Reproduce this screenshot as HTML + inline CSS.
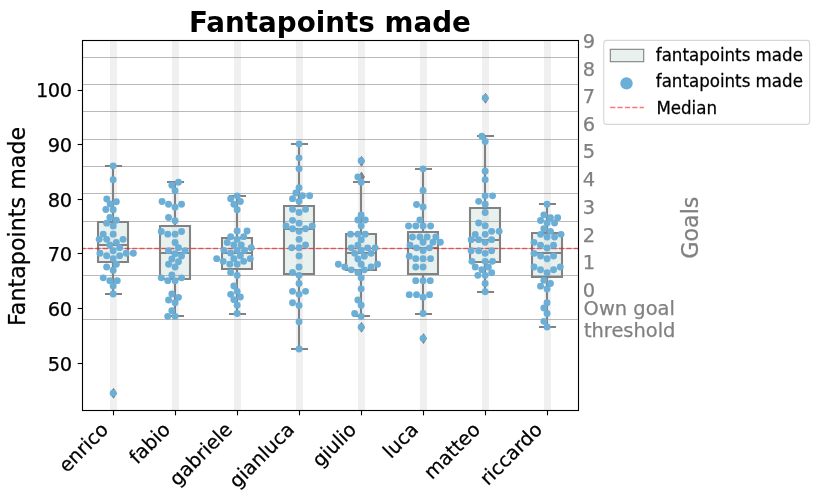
<!DOCTYPE html>
<html lang="en"><head><meta charset="utf-8"><title>Fantapoints made</title>
<style>
html,body{margin:0;padding:0;background:#fff;overflow:hidden;}
svg{display:block;font-family:'DejaVu Sans','Liberation Sans',sans-serif;}
.t14{font-size:19.44px;}
.t12{font-size:16.67px;}
.gr{fill:#808080;stroke:#808080;stroke-width:0.25px;}
.bk{fill:#000;stroke:#000;stroke-width:0.25px;}
</style></head><body>
<svg width="819" height="501" viewBox="0 0 819 501">
<rect width="819" height="501" fill="#fff"/>
<g fill="#e9f1ef">
<rect x="98.0" y="222" width="30" height="40"/>
<rect x="160.0" y="226" width="30" height="53"/>
<rect x="222.0" y="238" width="30" height="31"/>
<rect x="284.0" y="206" width="30" height="68"/>
<rect x="346.0" y="234" width="30" height="36"/>
<rect x="408.0" y="232" width="30" height="42"/>
<rect x="470.0" y="208" width="30" height="54"/>
<rect x="532.0" y="233" width="30" height="44"/>
</g>
<g fill="#d3d3d3" fill-opacity="0.35">
<rect x="110.03" y="40.5" width="6.94" height="370.0"/>
<rect x="172.03" y="40.5" width="6.94" height="370.0"/>
<rect x="234.03" y="40.5" width="6.94" height="370.0"/>
<rect x="296.03" y="40.5" width="6.94" height="370.0"/>
<rect x="358.03" y="40.5" width="6.94" height="370.0"/>
<rect x="420.03" y="40.5" width="6.94" height="370.0"/>
<rect x="482.03" y="40.5" width="6.94" height="370.0"/>
<rect x="544.03" y="40.5" width="6.94" height="370.0"/>
</g>
<g stroke="#808080" stroke-opacity="0.55" stroke-width="1.1">
<line x1="82.5" x2="578.5" y1="319.5" y2="319.5"/>
<line x1="82.5" x2="578.5" y1="275.5" y2="275.5"/>
<line x1="82.5" x2="578.5" y1="248.5" y2="248.5"/>
<line x1="82.5" x2="578.5" y1="221.5" y2="221.5"/>
<line x1="82.5" x2="578.5" y1="193.5" y2="193.5"/>
<line x1="82.5" x2="578.5" y1="166.5" y2="166.5"/>
<line x1="82.5" x2="578.5" y1="139.5" y2="139.5"/>
<line x1="82.5" x2="578.5" y1="111.5" y2="111.5"/>
<line x1="82.5" x2="578.5" y1="84.5" y2="84.5"/>
<line x1="82.5" x2="578.5" y1="57.5" y2="57.5"/>
</g>
<g stroke="#828282" stroke-width="2.08" fill="none" stroke-linecap="square">
<path d="M98.0 222H128.0V262H98.0ZM113.0 222V166M113.0 262V294M106.0 166H121.0M106.0 294H121.0M98.0 245H128.0"/>
<path d="M160.0 226H190.0V279H160.0ZM175.0 226V182M175.0 279V316M168.0 182H183.0M168.0 316H183.0M160.0 253H190.0"/>
<path d="M222.0 238H252.0V269H222.0ZM237.0 238V196M237.0 269V314M230.0 196H245.0M230.0 314H245.0M222.0 253H252.0"/>
<path d="M284.0 206H314.0V274H284.0ZM299.0 206V144M299.0 274V349M292.0 144H307.0M292.0 349H307.0M284.0 229H314.0"/>
<path d="M346.0 234H376.0V270H346.0ZM361.0 234V182M361.0 270V316M354.0 182H369.0M354.0 316H369.0M346.0 253H376.0"/>
<path d="M408.0 232H438.0V274H408.0ZM423.0 232V169M423.0 274V314M416.0 169H431.0M416.0 314H431.0M408.0 248H438.0"/>
<path d="M470.0 208H500.0V262H470.0ZM485.0 208V136M485.0 262V292M478.0 136H493.0M478.0 292H493.0M470.0 240H500.0"/>
<path d="M532.0 233H562.0V277H532.0ZM547.0 233V204M547.0 277V327M540.0 204H555.0M540.0 327H555.0M532.0 253H562.0"/>
</g>
<g fill="#828282" stroke="#828282" stroke-width="1" stroke-linejoin="miter">
<path d="M113.5 388.40L116.45 393.30L113.5 398.20L110.55 393.30Z"/>
<path d="M361.5 156.40L364.45 161.30L361.5 166.20L358.55 161.30Z"/>
<path d="M361.5 172.10L364.45 177.00L361.5 181.90L358.55 177.00Z"/>
<path d="M361.5 322.40L364.45 327.30L361.5 332.20L358.55 327.30Z"/>
<path d="M423.5 333.70L426.45 338.60L423.5 343.50L420.55 338.60Z"/>
<path d="M485.5 93.40L488.45 98.30L485.5 103.20L482.55 98.30Z"/>
</g>
<line x1="82.5" x2="578.5" y1="248.5" y2="248.5" stroke="#ff0000" stroke-opacity="0.55" stroke-width="1.39" stroke-dasharray="5.14 2.22" stroke-dashoffset="1.95"/>
<g fill="#6baed6">
<circle cx="113.15" cy="165.85" r="3.45"/>
<circle cx="113.15" cy="179.65" r="3.45"/>
<circle cx="106.75" cy="198.95" r="3.45"/>
<circle cx="116.35" cy="201.65" r="3.45"/>
<circle cx="110.15" cy="203.95" r="3.45"/>
<circle cx="105.85" cy="209.55" r="3.45"/>
<circle cx="113.15" cy="209.65" r="3.45"/>
<circle cx="109.85" cy="217.55" r="3.45"/>
<circle cx="116.35" cy="220.25" r="3.45"/>
<circle cx="106.65" cy="223.15" r="3.45"/>
<circle cx="113.15" cy="225.95" r="3.45"/>
<circle cx="113.15" cy="234.15" r="3.45"/>
<circle cx="103.25" cy="234.15" r="3.45"/>
<circle cx="99.15" cy="239.35" r="3.45"/>
<circle cx="106.65" cy="239.35" r="3.45"/>
<circle cx="123.05" cy="239.35" r="3.45"/>
<circle cx="116.35" cy="242.35" r="3.45"/>
<circle cx="109.85" cy="244.95" r="3.45"/>
<circle cx="119.65" cy="247.65" r="3.45"/>
<circle cx="113.15" cy="250.75" r="3.45"/>
<circle cx="99.95" cy="253.25" r="3.45"/>
<circle cx="126.25" cy="253.25" r="3.45"/>
<circle cx="133.35" cy="253.25" r="3.45"/>
<circle cx="106.65" cy="255.75" r="3.45"/>
<circle cx="119.65" cy="255.75" r="3.45"/>
<circle cx="113.15" cy="258.75" r="3.45"/>
<circle cx="116.35" cy="264.25" r="3.45"/>
<circle cx="106.65" cy="267.05" r="3.45"/>
<circle cx="113.15" cy="270.15" r="3.45"/>
<circle cx="103.25" cy="277.85" r="3.45"/>
<circle cx="109.85" cy="280.65" r="3.45"/>
<circle cx="117.25" cy="280.65" r="3.45"/>
<circle cx="113.15" cy="286.05" r="3.45"/>
<circle cx="113.15" cy="294.05" r="3.45"/>
<circle cx="113.15" cy="393.15" r="3.45"/>
<circle cx="178.45" cy="182.25" r="3.45"/>
<circle cx="171.85" cy="185.25" r="3.45"/>
<circle cx="175.05" cy="190.75" r="3.45"/>
<circle cx="162.05" cy="201.45" r="3.45"/>
<circle cx="168.55" cy="204.25" r="3.45"/>
<circle cx="181.55" cy="204.25" r="3.45"/>
<circle cx="175.05" cy="207.15" r="3.45"/>
<circle cx="168.55" cy="217.55" r="3.45"/>
<circle cx="175.05" cy="220.75" r="3.45"/>
<circle cx="161.25" cy="231.45" r="3.45"/>
<circle cx="167.75" cy="234.15" r="3.45"/>
<circle cx="175.05" cy="234.15" r="3.45"/>
<circle cx="181.55" cy="231.45" r="3.45"/>
<circle cx="175.05" cy="242.55" r="3.45"/>
<circle cx="178.45" cy="247.65" r="3.45"/>
<circle cx="168.55" cy="250.75" r="3.45"/>
<circle cx="184.95" cy="250.75" r="3.45"/>
<circle cx="175.05" cy="253.75" r="3.45"/>
<circle cx="181.55" cy="256.05" r="3.45"/>
<circle cx="171.85" cy="259.05" r="3.45"/>
<circle cx="178.45" cy="261.65" r="3.45"/>
<circle cx="168.55" cy="264.25" r="3.45"/>
<circle cx="175.05" cy="267.05" r="3.45"/>
<circle cx="171.85" cy="274.95" r="3.45"/>
<circle cx="161.25" cy="277.85" r="3.45"/>
<circle cx="181.55" cy="277.85" r="3.45"/>
<circle cx="167.75" cy="280.65" r="3.45"/>
<circle cx="175.05" cy="280.65" r="3.45"/>
<circle cx="171.85" cy="294.05" r="3.45"/>
<circle cx="178.45" cy="297.35" r="3.45"/>
<circle cx="168.55" cy="299.95" r="3.45"/>
<circle cx="175.05" cy="302.65" r="3.45"/>
<circle cx="171.85" cy="310.75" r="3.45"/>
<circle cx="167.75" cy="316.35" r="3.45"/>
<circle cx="175.05" cy="316.35" r="3.45"/>
<circle cx="237.15" cy="195.85" r="3.45"/>
<circle cx="230.65" cy="198.65" r="3.45"/>
<circle cx="240.35" cy="201.45" r="3.45"/>
<circle cx="233.85" cy="204.25" r="3.45"/>
<circle cx="237.15" cy="209.75" r="3.45"/>
<circle cx="237.15" cy="231.05" r="3.45"/>
<circle cx="247.05" cy="231.05" r="3.45"/>
<circle cx="230.65" cy="236.65" r="3.45"/>
<circle cx="243.65" cy="236.65" r="3.45"/>
<circle cx="237.15" cy="239.35" r="3.45"/>
<circle cx="227.25" cy="242.45" r="3.45"/>
<circle cx="233.85" cy="244.95" r="3.45"/>
<circle cx="241.25" cy="244.95" r="3.45"/>
<circle cx="251.15" cy="247.75" r="3.45"/>
<circle cx="223.95" cy="250.35" r="3.45"/>
<circle cx="237.15" cy="250.35" r="3.45"/>
<circle cx="244.55" cy="250.35" r="3.45"/>
<circle cx="230.65" cy="253.05" r="3.45"/>
<circle cx="240.35" cy="255.75" r="3.45"/>
<circle cx="216.65" cy="258.65" r="3.45"/>
<circle cx="233.85" cy="258.65" r="3.45"/>
<circle cx="250.25" cy="258.65" r="3.45"/>
<circle cx="223.15" cy="261.35" r="3.45"/>
<circle cx="243.65" cy="261.35" r="3.45"/>
<circle cx="229.85" cy="264.15" r="3.45"/>
<circle cx="237.15" cy="264.25" r="3.45"/>
<circle cx="230.65" cy="272.55" r="3.45"/>
<circle cx="237.15" cy="275.35" r="3.45"/>
<circle cx="233.85" cy="286.05" r="3.45"/>
<circle cx="237.15" cy="291.35" r="3.45"/>
<circle cx="230.65" cy="294.35" r="3.45"/>
<circle cx="240.35" cy="297.05" r="3.45"/>
<circle cx="233.85" cy="299.65" r="3.45"/>
<circle cx="237.15" cy="305.15" r="3.45"/>
<circle cx="237.15" cy="313.55" r="3.45"/>
<circle cx="299.05" cy="144.05" r="3.45"/>
<circle cx="299.05" cy="157.85" r="3.45"/>
<circle cx="299.05" cy="168.75" r="3.45"/>
<circle cx="299.05" cy="187.75" r="3.45"/>
<circle cx="295.85" cy="192.95" r="3.45"/>
<circle cx="302.45" cy="195.75" r="3.45"/>
<circle cx="309.65" cy="195.75" r="3.45"/>
<circle cx="292.55" cy="198.65" r="3.45"/>
<circle cx="299.05" cy="201.35" r="3.45"/>
<circle cx="292.55" cy="209.35" r="3.45"/>
<circle cx="305.55" cy="209.35" r="3.45"/>
<circle cx="299.05" cy="212.55" r="3.45"/>
<circle cx="292.55" cy="220.35" r="3.45"/>
<circle cx="299.05" cy="223.15" r="3.45"/>
<circle cx="286.05" cy="226.05" r="3.45"/>
<circle cx="312.25" cy="226.05" r="3.45"/>
<circle cx="292.55" cy="228.75" r="3.45"/>
<circle cx="305.55" cy="228.75" r="3.45"/>
<circle cx="299.05" cy="231.35" r="3.45"/>
<circle cx="299.05" cy="239.35" r="3.45"/>
<circle cx="305.55" cy="244.95" r="3.45"/>
<circle cx="291.75" cy="247.75" r="3.45"/>
<circle cx="299.05" cy="247.75" r="3.45"/>
<circle cx="299.05" cy="256.05" r="3.45"/>
<circle cx="299.05" cy="267.05" r="3.45"/>
<circle cx="292.55" cy="272.55" r="3.45"/>
<circle cx="299.05" cy="275.35" r="3.45"/>
<circle cx="299.05" cy="283.45" r="3.45"/>
<circle cx="292.55" cy="291.35" r="3.45"/>
<circle cx="305.55" cy="291.35" r="3.45"/>
<circle cx="299.05" cy="294.35" r="3.45"/>
<circle cx="292.55" cy="302.75" r="3.45"/>
<circle cx="299.05" cy="305.45" r="3.45"/>
<circle cx="299.05" cy="321.75" r="3.45"/>
<circle cx="299.05" cy="349.05" r="3.45"/>
<circle cx="361.15" cy="160.65" r="3.45"/>
<circle cx="357.85" cy="176.95" r="3.45"/>
<circle cx="361.15" cy="182.25" r="3.45"/>
<circle cx="361.15" cy="215.05" r="3.45"/>
<circle cx="357.85" cy="220.05" r="3.45"/>
<circle cx="365.25" cy="220.05" r="3.45"/>
<circle cx="361.15" cy="225.85" r="3.45"/>
<circle cx="350.55" cy="234.15" r="3.45"/>
<circle cx="357.85" cy="234.15" r="3.45"/>
<circle cx="365.25" cy="234.15" r="3.45"/>
<circle cx="361.15" cy="239.65" r="3.45"/>
<circle cx="357.85" cy="245.25" r="3.45"/>
<circle cx="351.25" cy="247.85" r="3.45"/>
<circle cx="367.65" cy="247.85" r="3.45"/>
<circle cx="375.15" cy="247.85" r="3.45"/>
<circle cx="361.15" cy="250.55" r="3.45"/>
<circle cx="354.65" cy="253.35" r="3.45"/>
<circle cx="371.05" cy="253.35" r="3.45"/>
<circle cx="364.35" cy="256.15" r="3.45"/>
<circle cx="357.85" cy="258.95" r="3.45"/>
<circle cx="338.35" cy="264.25" r="3.45"/>
<circle cx="361.15" cy="264.25" r="3.45"/>
<circle cx="377.55" cy="264.25" r="3.45"/>
<circle cx="344.75" cy="266.95" r="3.45"/>
<circle cx="371.05" cy="266.95" r="3.45"/>
<circle cx="351.25" cy="269.85" r="3.45"/>
<circle cx="364.35" cy="269.85" r="3.45"/>
<circle cx="357.85" cy="272.55" r="3.45"/>
<circle cx="361.15" cy="277.85" r="3.45"/>
<circle cx="361.15" cy="288.85" r="3.45"/>
<circle cx="357.85" cy="299.95" r="3.45"/>
<circle cx="361.15" cy="305.25" r="3.45"/>
<circle cx="354.65" cy="313.55" r="3.45"/>
<circle cx="361.15" cy="316.35" r="3.45"/>
<circle cx="361.15" cy="327.25" r="3.45"/>
<circle cx="423.05" cy="168.85" r="3.45"/>
<circle cx="423.05" cy="190.55" r="3.45"/>
<circle cx="416.55" cy="204.55" r="3.45"/>
<circle cx="423.05" cy="207.05" r="3.45"/>
<circle cx="419.85" cy="220.05" r="3.45"/>
<circle cx="408.55" cy="225.95" r="3.45"/>
<circle cx="415.75" cy="225.95" r="3.45"/>
<circle cx="423.05" cy="225.95" r="3.45"/>
<circle cx="430.55" cy="225.95" r="3.45"/>
<circle cx="412.45" cy="236.95" r="3.45"/>
<circle cx="419.85" cy="236.95" r="3.45"/>
<circle cx="427.15" cy="236.95" r="3.45"/>
<circle cx="435.85" cy="236.95" r="3.45"/>
<circle cx="423.05" cy="242.25" r="3.45"/>
<circle cx="432.95" cy="242.25" r="3.45"/>
<circle cx="440.35" cy="242.25" r="3.45"/>
<circle cx="410.05" cy="245.25" r="3.45"/>
<circle cx="416.55" cy="247.85" r="3.45"/>
<circle cx="429.55" cy="247.85" r="3.45"/>
<circle cx="423.05" cy="250.55" r="3.45"/>
<circle cx="409.25" cy="256.15" r="3.45"/>
<circle cx="415.75" cy="258.65" r="3.45"/>
<circle cx="423.05" cy="258.65" r="3.45"/>
<circle cx="430.55" cy="258.65" r="3.45"/>
<circle cx="415.75" cy="266.95" r="3.45"/>
<circle cx="423.05" cy="266.95" r="3.45"/>
<circle cx="415.75" cy="280.65" r="3.45"/>
<circle cx="423.05" cy="280.65" r="3.45"/>
<circle cx="430.25" cy="280.65" r="3.45"/>
<circle cx="409.25" cy="294.65" r="3.45"/>
<circle cx="416.55" cy="294.65" r="3.45"/>
<circle cx="429.55" cy="294.65" r="3.45"/>
<circle cx="423.05" cy="297.15" r="3.45"/>
<circle cx="423.05" cy="313.55" r="3.45"/>
<circle cx="423.05" cy="338.35" r="3.45"/>
<circle cx="485.15" cy="97.95" r="3.45"/>
<circle cx="481.85" cy="136.15" r="3.45"/>
<circle cx="485.15" cy="141.45" r="3.45"/>
<circle cx="485.15" cy="171.25" r="3.45"/>
<circle cx="485.15" cy="179.65" r="3.45"/>
<circle cx="485.15" cy="195.85" r="3.45"/>
<circle cx="492.55" cy="195.85" r="3.45"/>
<circle cx="478.65" cy="201.35" r="3.45"/>
<circle cx="485.15" cy="204.25" r="3.45"/>
<circle cx="485.15" cy="212.55" r="3.45"/>
<circle cx="478.65" cy="223.05" r="3.45"/>
<circle cx="485.15" cy="225.65" r="3.45"/>
<circle cx="491.65" cy="231.35" r="3.45"/>
<circle cx="499.15" cy="231.35" r="3.45"/>
<circle cx="475.25" cy="234.35" r="3.45"/>
<circle cx="485.15" cy="234.35" r="3.45"/>
<circle cx="471.15" cy="239.65" r="3.45"/>
<circle cx="478.65" cy="239.65" r="3.45"/>
<circle cx="491.65" cy="239.65" r="3.45"/>
<circle cx="485.15" cy="242.35" r="3.45"/>
<circle cx="471.15" cy="250.75" r="3.45"/>
<circle cx="478.65" cy="250.75" r="3.45"/>
<circle cx="491.65" cy="250.75" r="3.45"/>
<circle cx="485.15" cy="253.35" r="3.45"/>
<circle cx="471.95" cy="261.35" r="3.45"/>
<circle cx="485.15" cy="261.35" r="3.45"/>
<circle cx="492.55" cy="261.35" r="3.45"/>
<circle cx="475.25" cy="266.95" r="3.45"/>
<circle cx="488.35" cy="266.95" r="3.45"/>
<circle cx="481.85" cy="269.75" r="3.45"/>
<circle cx="491.65" cy="272.65" r="3.45"/>
<circle cx="477.85" cy="275.35" r="3.45"/>
<circle cx="485.15" cy="275.35" r="3.45"/>
<circle cx="485.15" cy="283.45" r="3.45"/>
<circle cx="485.15" cy="291.75" r="3.45"/>
<circle cx="547.05" cy="204.25" r="3.45"/>
<circle cx="543.85" cy="214.85" r="3.45"/>
<circle cx="550.45" cy="217.75" r="3.45"/>
<circle cx="557.65" cy="217.75" r="3.45"/>
<circle cx="540.55" cy="220.55" r="3.45"/>
<circle cx="547.05" cy="223.05" r="3.45"/>
<circle cx="554.55" cy="223.05" r="3.45"/>
<circle cx="543.85" cy="228.75" r="3.45"/>
<circle cx="550.45" cy="231.35" r="3.45"/>
<circle cx="540.55" cy="234.35" r="3.45"/>
<circle cx="561.05" cy="234.35" r="3.45"/>
<circle cx="547.05" cy="237.05" r="3.45"/>
<circle cx="554.55" cy="237.05" r="3.45"/>
<circle cx="534.05" cy="242.35" r="3.45"/>
<circle cx="540.55" cy="245.15" r="3.45"/>
<circle cx="553.55" cy="245.15" r="3.45"/>
<circle cx="547.05" cy="248.05" r="3.45"/>
<circle cx="534.05" cy="253.35" r="3.45"/>
<circle cx="540.55" cy="256.05" r="3.45"/>
<circle cx="553.55" cy="256.05" r="3.45"/>
<circle cx="547.05" cy="258.75" r="3.45"/>
<circle cx="534.05" cy="266.95" r="3.45"/>
<circle cx="560.25" cy="266.95" r="3.45"/>
<circle cx="540.55" cy="269.75" r="3.45"/>
<circle cx="553.55" cy="269.75" r="3.45"/>
<circle cx="547.05" cy="272.65" r="3.45"/>
<circle cx="543.85" cy="280.35" r="3.45"/>
<circle cx="550.45" cy="283.45" r="3.45"/>
<circle cx="540.55" cy="286.15" r="3.45"/>
<circle cx="547.05" cy="289.05" r="3.45"/>
<circle cx="547.05" cy="302.75" r="3.45"/>
<circle cx="543.85" cy="308.05" r="3.45"/>
<circle cx="547.05" cy="313.45" r="3.45"/>
<circle cx="543.85" cy="321.35" r="3.45"/>
<circle cx="547.05" cy="326.95" r="3.45"/>
</g>
<rect x="82.5" y="40.5" width="496.0" height="370.0" fill="none" stroke="#000" stroke-width="1.11"/>
<g stroke="#000" stroke-width="1.11">
<line x1="77.64" x2="82.5" y1="363.5" y2="363.5"/>
<line x1="77.64" x2="82.5" y1="308.5" y2="308.5"/>
<line x1="77.64" x2="82.5" y1="253.5" y2="253.5"/>
<line x1="77.64" x2="82.5" y1="199.5" y2="199.5"/>
<line x1="77.64" x2="82.5" y1="144.5" y2="144.5"/>
<line x1="77.64" x2="82.5" y1="90.5" y2="90.5"/>
<line x1="113.5" x2="113.5" y1="410.5" y2="415.36"/>
<line x1="175.5" x2="175.5" y1="410.5" y2="415.36"/>
<line x1="237.5" x2="237.5" y1="410.5" y2="415.36"/>
<line x1="299.5" x2="299.5" y1="410.5" y2="415.36"/>
<line x1="361.5" x2="361.5" y1="410.5" y2="415.36"/>
<line x1="423.5" x2="423.5" y1="410.5" y2="415.36"/>
<line x1="485.5" x2="485.5" y1="410.5" y2="415.36"/>
<line x1="547.5" x2="547.5" y1="410.5" y2="415.36"/>
</g>
<g class="t14 bk" text-anchor="end" letter-spacing="-0.4">
<text x="71.80" y="370.90">50</text>
<text x="71.80" y="315.90">60</text>
<text x="71.80" y="260.90">70</text>
<text x="71.80" y="206.90">80</text>
<text x="71.80" y="151.90">90</text>
<text x="71.80" y="96.90">100</text>
</g>
<g class="t14 bk" text-anchor="end">
<text transform="translate(109.50 430.80) rotate(-45)">enrico</text>
<text transform="translate(171.50 430.80) rotate(-45)">fabio</text>
<text transform="translate(233.50 430.80) rotate(-45)">gabriele</text>
<text transform="translate(295.50 430.80) rotate(-45)">gianluca</text>
<text transform="translate(357.50 430.80) rotate(-45)">giulio</text>
<text transform="translate(419.50 430.80) rotate(-45)">luca</text>
<text transform="translate(481.50 430.80) rotate(-45)">matteo</text>
<text transform="translate(543.50 430.80) rotate(-45)">riccardo</text>
</g>
<text transform="translate(329.90 31.9) scale(1 1.0)" text-anchor="middle" font-size="27.78px" font-weight="bold" fill="#000">Fantapoints made</text>
<text transform="translate(25.1 325.9) rotate(-90)" font-size="22.22px" class="bk">Fantapoints made</text>
<g class="t14 gr">
<text x="582.8" y="297">0</text>
<text x="582.8" y="269.1">1</text>
<text x="582.8" y="242.1">2</text>
<text x="582.8" y="214">3</text>
<text x="582.8" y="186">4</text>
<text x="582.8" y="157.7">5</text>
<text x="582.8" y="130.6">6</text>
<text x="582.8" y="102.9">7</text>
<text x="582.8" y="75.8">8</text>
<text x="582.8" y="48">9</text>
<text x="583.6" y="315.3">Own goal</text>
<text x="583.9" y="336.8">threshold</text>
</g>
<text transform="translate(697.9 227.7) rotate(-90)" text-anchor="middle" font-size="22.22px" class="gr">Goals</text>
<rect x="603.75" y="40.4" width="205.9" height="84" rx="2.8" ry="2.8" fill="#fff" fill-opacity="0.8" stroke="#cccccc" stroke-opacity="0.8" stroke-width="1.11"/>
<rect x="610.3" y="49.3" width="33.4" height="12.4" fill="#e9f1ef" stroke="#808080" stroke-width="1.1"/>
<circle cx="626.5" cy="83.4" r="6.2" fill="#6baed6"/>
<line x1="610.2" x2="643.8" y1="107.5" y2="107.5" stroke="#ff0000" stroke-opacity="0.55" stroke-width="1.39" stroke-dasharray="5.14 2.22"/>
<g class="t12 bk">
<text transform="translate(655.8 61.2) scale(1 1.07)">fantapoints made</text>
<text transform="translate(655.8 87.2) scale(1 1.07)">fantapoints made</text>
<text transform="translate(656.4 113.9) scale(1 1.07)">Median</text>
</g>
</svg></body></html>
